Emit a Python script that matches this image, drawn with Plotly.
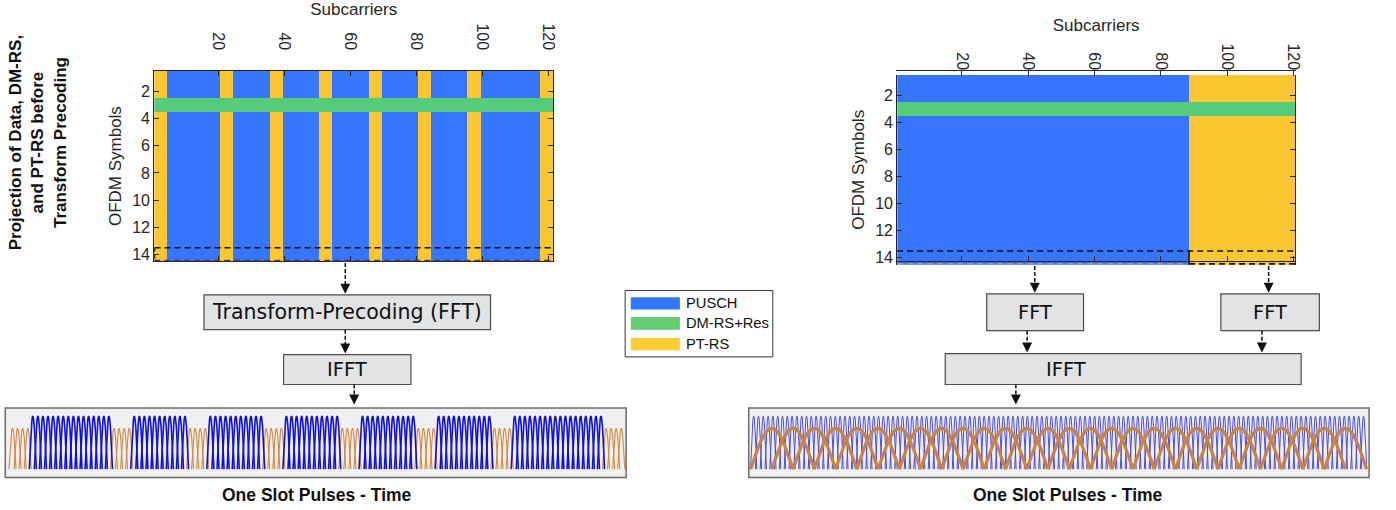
import numpy as np
import plotly.graph_objects as go

W, H = 1396, 510

# ---------------- data ----------------
N_SUB_LEFT = 121
N_SUB_RIGHT = 120
N_SYMBOLS = 14
DMRS_SYMBOL = 3
PTRS_GROUP_SIZE = 4
PTRS_GROUP_STARTS_LEFT = [1, 21, 36, 51, 66, 81, 96, 118]
PTRS_BLOCK_START_RIGHT = 89
X_TICKS = [20, 40, 60, 80, 100, 120]
Y_TICKS = [2, 4, 6, 8, 10, 12, 14]
CATEGORIES = ["PUSCH", "DM-RS+Res", "PT-RS"]
HEAT_COLORS = ["#3676ff", "#54cc79", "#fbc730"]
LEGEND_COLORS = ["#3278fa", "#64cd73", "#fccd32"]
PULSE_AMP_PUSCH = 1.0
PULSE_AMP_PTRS = 0.77
RIGHT_PUSCH_PULSES = 128
RIGHT_PTRS_PULSES = 28

# ---------------- helpers ----------------
def px(x):
    return x / W

def py(y):
    return 1 - y / H

def build_grid(n_sub, ptrs_cols):
    z = []
    for s in range(1, N_SYMBOLS + 1):
        row = []
        for c in range(1, n_sub + 1):
            if s == DMRS_SYMBOL:
                row.append(1)
            elif c in ptrs_cols:
                row.append(2)
            else:
                row.append(0)
        z.append(row)
    return z

def arches(centers, half_width, amp, npts=17):
    xs, ys = [], []
    t = np.linspace(-1, 1, npts)
    for c in centers:
        xs += list(c + t * half_width) + [None]
        ys += list(amp * np.cos(np.pi * t / 2)) + [None]
    return xs, ys

ptrs_left = set()
for st in PTRS_GROUP_STARTS_LEFT:
    ptrs_left.update(range(st, st + PTRS_GROUP_SIZE))
ptrs_right = set(range(PTRS_BLOCK_START_RIGHT, N_SUB_RIGHT + 1))

z_left = build_grid(N_SUB_LEFT, ptrs_left)
z_right = build_grid(N_SUB_RIGHT, ptrs_right)

cs = [[0, HEAT_COLORS[0]], [0.33, HEAT_COLORS[0]], [0.34, HEAT_COLORS[1]],
      [0.66, HEAT_COLORS[1]], [0.67, HEAT_COLORS[2]], [1, HEAT_COLORS[2]]]

fig = go.Figure()
fig.add_trace(go.Heatmap(z=z_left, x=list(range(1, N_SUB_LEFT + 1)), y=list(range(1, N_SYMBOLS + 1)),
                         colorscale=cs, zmin=0, zmax=2, showscale=False, hoverinfo="skip",
                         xaxis="x", yaxis="y"))
fig.add_trace(go.Heatmap(z=z_right, x=list(range(1, N_SUB_RIGHT + 1)), y=list(range(1, N_SYMBOLS + 1)),
                         colorscale=cs, zmin=0, zmax=2, showscale=False, hoverinfo="skip",
                         xaxis="x2", yaxis="y2"))

# left pulses: one per subcarrier
sub = list(range(1, N_SUB_LEFT + 1))
blue_c = [c for c in sub if c not in ptrs_left]
orng_c = [c for c in sub if c in ptrs_left]
bx, by = arches(blue_c, 0.7, PULSE_AMP_PUSCH)
ox, oy = arches(orng_c, 0.7, PULSE_AMP_PTRS)
fig.add_trace(go.Scatter(x=ox, y=oy, mode="lines", line=dict(color="#d3893c", width=1.1),
                         xaxis="x3", yaxis="y3", hoverinfo="skip"))
fig.add_trace(go.Scatter(x=bx, y=by, mode="lines", line=dict(color="#0f0fe8", width=1.6),
                         xaxis="x3", yaxis="y3", hoverinfo="skip"))

# right pulses
sb = 1.0 / (RIGHT_PUSCH_PULSES + 0.3)
rb_c = [0.65 * sb + i * sb for i in range(RIGHT_PUSCH_PULSES)]
so = 1.0 / (RIGHT_PTRS_PULSES + 1)
ro_c = [(i + 1) * so for i in range(RIGHT_PTRS_PULSES)]
rbx, rby = arches(rb_c, 0.65 * sb, PULSE_AMP_PUSCH)
rox, roy = arches(ro_c, so, PULSE_AMP_PTRS, npts=31)
fig.add_trace(go.Scatter(x=rbx, y=rby, mode="lines", line=dict(color="#4a4af0", width=1),
                         xaxis="x4", yaxis="y4", hoverinfo="skip"))
fig.add_trace(go.Scatter(x=rox, y=roy, mode="lines", line=dict(color="#c9843f", width=3.2),
                         xaxis="x4", yaxis="y4", hoverinfo="skip"))

tickfont = dict(family="Liberation Sans, Arial", size=16, color="#262626")
titlefont = dict(family="Liberation Sans, Arial", size=17, color="#262626")

def heat_x(domain, rng, standoff_lbl, title_standoff):
    return dict(domain=domain, range=rng, side="top", tickangle=90, tickvals=X_TICKS,
                tickfont=tickfont, showline=True, mirror="ticks", linecolor="#262626",
                linewidth=1, ticks="inside", ticklen=5, tickcolor="#262626",
                showgrid=False, zeroline=False, ticklabelstandoff=standoff_lbl,
                title=dict(text="Subcarriers", font=titlefont, standoff=title_standoff))

def heat_y(domain, anchor):
    return dict(domain=domain, range=[14.5, 0.5], tickvals=Y_TICKS, tickfont=tickfont,
                showline=True, mirror="ticks", linecolor="#262626", linewidth=1,
                ticks="inside", ticklen=5, tickcolor="#262626", showgrid=False,
                zeroline=False, anchor=anchor,
                title=dict(text="OFDM Symbols", font=titlefont, standoff=6))

hidden = dict(visible=False, showgrid=False, zeroline=False)

fig.update_layout(
    width=W, height=H, margin=dict(l=0, r=0, t=0, b=0),
    paper_bgcolor="white", plot_bgcolor="#f0f0f0", showlegend=False,
    xaxis=heat_x([px(155), px(556)], [0.5, N_SUB_LEFT + 0.5], 14, 10),
    yaxis=heat_y([py(262.5), py(71)], "x"),
    xaxis2=heat_x([px(901.7), px(1301.7)], [0.5, N_SUB_RIGHT + 0.5], -6, 7),
    yaxis2=heat_y([py(265.7), py(75.3)], "x2"),
    xaxis3=dict(domain=[px(5.3), px(629.3)], range=[-0.43, N_SUB_LEFT + 0.96], anchor="y3", **hidden),
    yaxis3=dict(domain=[py(479.5), py(409.5)], range=[-0.16, 1.155], anchor="x3", **hidden),
    xaxis4=dict(domain=[px(752.5), px(1376)], range=[-0.003, 1.004], anchor="y4", **hidden),
    yaxis4=dict(domain=[py(479.5), py(409.5)], range=[-0.16, 1.155], anchor="x4", **hidden),
)

shapes = []
annotations = []

# pulse frames
for xr, yr in (("x3", "y3"), ("x4", "y4")):
    shapes.append(dict(type="rect", xref=xr + " domain", yref=yr + " domain", x0=0, x1=1, y0=0, y1=1,
                       line=dict(color="#6b6b6b", width=1.5), fillcolor="rgba(0,0,0,0)"))

# dashed selection of last symbol
shapes.append(dict(type="line", xref="x", yref="y", x0=0.6, x1=N_SUB_LEFT + 0.5, y0=13.5, y1=13.5,
                   line=dict(color="#111", width=1.5, dash="6px,4px")))
shapes.append(dict(type="line", xref="x", yref="y", x0=0.6, x1=0.6, y0=13.5, y1=14.5,
                   line=dict(color="#111", width=1.5, dash="4px,3px")))
shapes.append(dict(type="line", xref="x", yref="y", x0=0.5, x1=N_SUB_LEFT + 0.5, y0=14.45, y1=14.45,
                   line=dict(color="#4a3b55", width=2, dash="6px,4px")))
shapes.append(dict(type="line", xref="x2", yref="y2", x0=0.5, x1=N_SUB_RIGHT + 0.3, y0=13.5, y1=13.5,
                   line=dict(color="#111", width=1.5, dash="6px,4px")))
shapes.append(dict(type="line", xref="x2", yref="y2", x0=0.5, x1=PTRS_BLOCK_START_RIGHT - 0.5, y0=14.45, y1=14.45,
                   line=dict(color="#9a9a9a", width=2, dash="6px,4px")))
shapes.append(dict(type="line", xref="x2", yref="y2", x0=PTRS_BLOCK_START_RIGHT - 0.5, x1=N_SUB_RIGHT + 0.5,
                   y0=14.45, y1=14.45, line=dict(color="#111", width=2, dash="6px,4px")))
shapes.append(dict(type="line", xref="x2", yref="y2", x0=PTRS_BLOCK_START_RIGHT - 0.5, x1=PTRS_BLOCK_START_RIGHT - 0.5,
                   y0=13.5, y1=14.5, line=dict(color="#111", width=1.5)))


def box(x0, y0, x1, y1, text, tx=None, size=19.5):
    shapes.append(dict(type="rect", xref="paper", yref="paper", x0=px(x0), x1=px(x1), y0=py(y1), y1=py(y0),
                       line=dict(color="#4d4d4d", width=1.2), fillcolor="#e2e3e5"))
    cx = (x0 + x1) / 2 if tx is None else tx
    annotations.append(dict(x=px(cx), y=py((y0 + y1) / 2), xref="paper", yref="paper", text=text,
                            showarrow=False, font=dict(family="DejaVu Sans", size=size, color="#111"),
                            xanchor="center", yanchor="middle"))


def arrow(x, y0, y1):
    shapes.append(dict(type="line", xref="paper", yref="paper", x0=px(x), x1=px(x), y0=py(y0), y1=py(y1 - 9),
                       line=dict(color="#111", width=1.5, dash="4px,2px")))
    annotations.append(dict(x=px(x), y=py(y1), xref="paper", yref="paper", ax=0, ay=-11, text="",
                            showarrow=True, arrowhead=2, arrowsize=1.0, arrowwidth=2, arrowcolor="#111"))

# left flow
box(205, 296, 493, 331, "Transform-Precoding (FFT)", size=20.5)
box(285, 356, 413, 386, "IFFT")
arrow(347, 264, 295)
arrow(347, 331, 355)
arrow(356, 386, 406)

# right flow
box(991.7, 295, 1089, 332, "FFT")
box(1227, 295, 1326, 332, "FFT")
box(950, 355, 1307.7, 386, "IFFT", tx=1071.7)
arrow(1040, 267, 294)
arrow(1275, 267, 294)
arrow(1032.3, 332, 354)
arrow(1268.3, 332, 354)
arrow(1021, 386, 406)

# legend
shapes.append(dict(type="rect", xref="paper", yref="paper", x0=px(628.3), x1=px(776.7), y0=py(358.3), y1=py(291.7),
                   line=dict(color="#333", width=1), fillcolor="white"))
leg_y = [(298.3, 310.7), (318.3, 331), (339.3, 351.7)]
for (a, b), col, lab in zip(leg_y, LEGEND_COLORS, CATEGORIES):
    shapes.append(dict(type="rect", xref="paper", yref="paper", x0=px(634), x1=px(683.3), y0=py(b), y1=py(a),
                       line=dict(width=0), fillcolor=col))
    annotations.append(dict(x=px(687.5), y=py((a + b) / 2), xref="paper", yref="paper", text=lab, showarrow=False,
                            xanchor="left", yanchor="middle",
                            font=dict(family="Liberation Sans, Arial", size=14.7, color="#111")))

# side title
annotations.append(dict(x=px(38), y=py(143), xref="paper", yref="paper", textangle=-90, showarrow=False,
                        text="<b>Projection of Data, DM-RS,<br>and PT-RS before<br>Transform Precoding</b>",
                        font=dict(family="Liberation Sans, Arial", size=17, color="#111"),
                        xanchor="center", yanchor="middle", align="center"))

for cx in (319, 1073.3):
    annotations.append(dict(x=px(cx), y=py(496.7), xref="paper", yref="paper", showarrow=False,
                            text="<b>One Slot Pulses - Time</b>",
                            font=dict(family="Liberation Sans, Arial", size=17.5, color="#111"),
                            xanchor="center", yanchor="middle"))

fig.update_layout(shapes=shapes, annotations=annotations)
fig.write_html("out.html")
